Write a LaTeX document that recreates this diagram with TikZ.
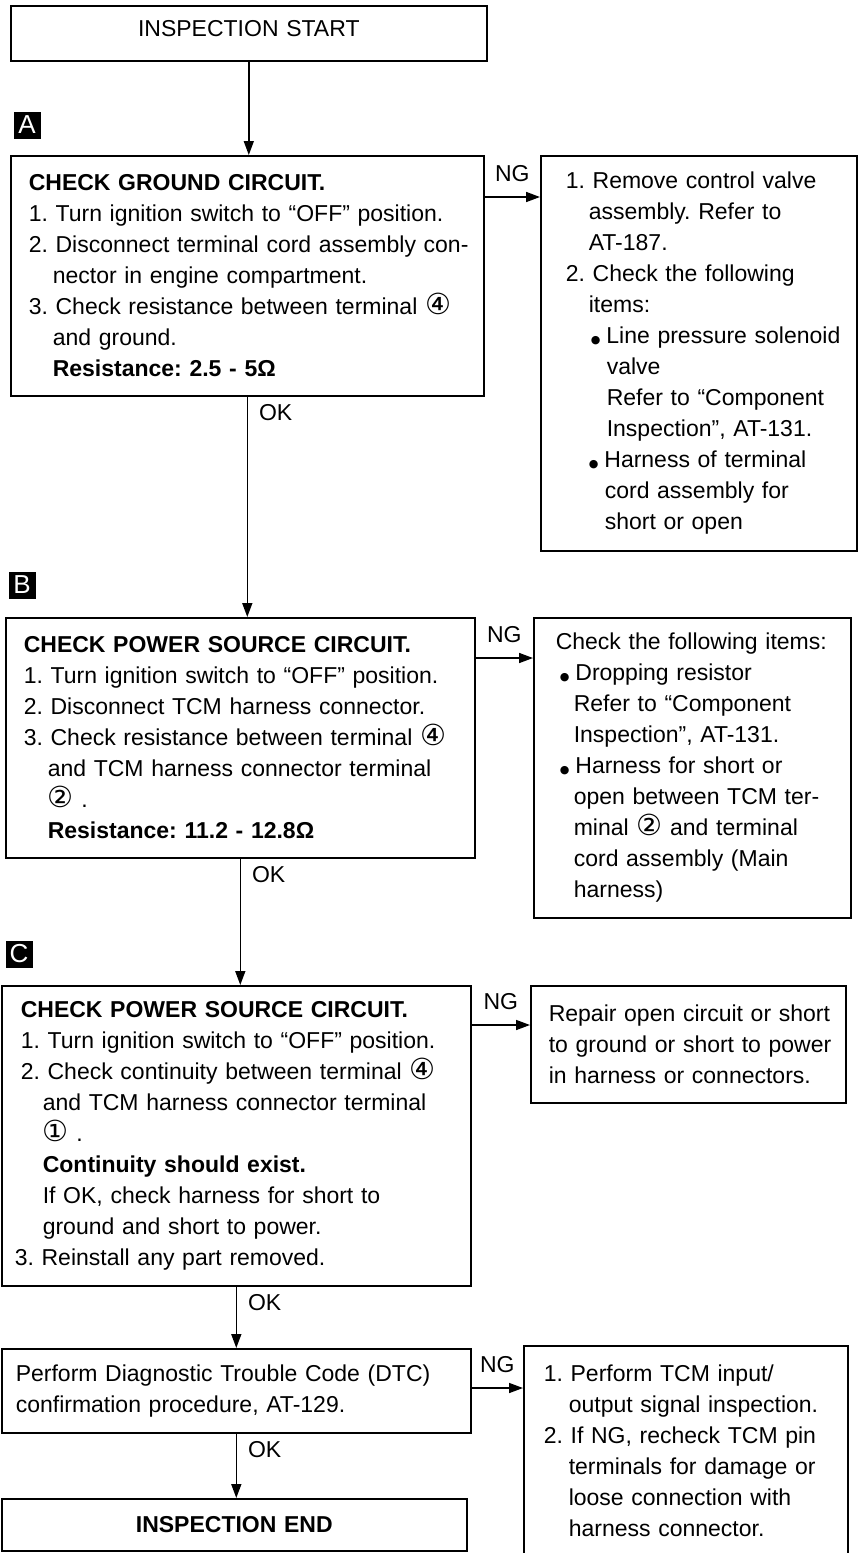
\documentclass[tikz,border=0pt]{standalone}
\usepackage{fontspec}
\setmainfont{Liberation Sans}
\newfontfamily\circfont{DejaVu Sans}
\usetikzlibrary{arrows.meta,positioning,calc}

\newcommand{\ind}{\hspace*{24pt}}
\newcommand{\lm}[1]{\leftskip=#1pt\relax}
\newcommand{\cnum}[1]{{\circfont\fontsize{29}{31}\selectfont#1}}
\newcommand{\blt}{{\circfont\fontsize{11}{11}\selectfont●}\hspace*{6pt}}

\tikzset{
  stepbox/.style={draw, line width=1.6pt, anchor=north west, align=left,
    inner xsep=4pt, inner ysep=0pt,
    font=\fontsize{23}{31}\selectfont\frenchspacing},
  flow/.style={line width=1.6pt, -{Triangle[length=14pt,width=10pt]}},
  tag/.style={fill=black, text=white, minimum size=27pt, inner sep=0pt,
    font=\fontsize{26}{26}\selectfont},
  ok/.style={anchor=north west, inner xsep=11pt, inner ysep=7pt,
    font=\fontsize{23}{31}\selectfont},
  ng/.style={above, inner sep=14pt, font=\fontsize{23}{31}\selectfont}
}

\begin{document}
\begin{tikzpicture}[x=1pt, y=-1pt]
  \useasboundingbox (0,0) rectangle (857,1553);

  \node[stepbox, align=center, inner xsep=0pt, text width=476pt,
        text depth=10pt, minimum height=55pt] (start) at (10,5) {INSPECTION START};

  % A
  \node[tag] (tagA) at (27,125) {A};
  \node[stepbox, text width=465pt, minimum height=240pt]
    (chkA) at (10,155) {\lm{14}%
      \textbf{CHECK GROUND CIRCUIT.}\\
      1. Turn ignition switch to “OFF” position.\\
      2. Disconnect terminal cord assembly con-\\
      \ind nector in engine compartment.\\
      3. Check resistance between terminal \cnum{④}\\
      \ind and ground.\\
      \ind\textbf{Resistance: 2.5 - 5Ω}\par};
  \node[stepbox, text width=308pt, minimum height=395pt]
    (fixA) at (540,155) {\lm{21}%
      1. Remove control valve\\
      \hspace*{23pt}assembly. Refer to\\
      \hspace*{23pt}AT-187.\\
      2. Check the following\\
      \hspace*{23pt}items:\\
      \hspace*{25pt}\blt Line pressure solenoid\\
      \hspace*{41pt}valve\\
      \hspace*{41pt}Refer to “Component\\
      \hspace*{41pt}Inspection”, AT-131.\\
      \hspace*{23pt}\blt Harness of terminal\\
      \hspace*{39pt}cord assembly for\\
      \hspace*{39pt}short or open\par};

  % B
  \node[tag] (tagB) at (22,585) {B};
  \node[stepbox, text width=461pt, minimum height=240pt]
    (chkB) at (5,617) {\lm{14}%
      \textbf{CHECK POWER SOURCE CIRCUIT.}\\
      1. Turn ignition switch to “OFF” position.\\
      2. Disconnect TCM harness connector.\\
      3. Check resistance between terminal \cnum{④}\\
      \ind and TCM harness connector terminal\\
      \ind\cnum{②} .\\
      \ind\textbf{Resistance: 11.2 - 12.8Ω}\par};
  \node[stepbox, text width=309pt, minimum height=300pt]
    (fixB) at (533,617) {\lm{18}%
      Check the following items:\\
      \hspace*{4pt}\blt Dropping resistor\\
      \hspace*{18pt}Refer to “Component\\
      \hspace*{18pt}Inspection”, AT-131.\\
      \hspace*{4pt}\blt Harness for short or\\
      \hspace*{18pt}open between TCM ter-\\
      \hspace*{18pt}minal \cnum{②}\ and terminal\\
      \hspace*{18pt}cord assembly (Main\\
      \hspace*{18pt}harness)\par};

  % C
  \node[tag] (tagC) at (19,954) {C};
  \node[stepbox, text width=461pt, minimum height=300pt]
    (chkC) at (1,985) {\lm{15}%
      \textbf{CHECK POWER SOURCE CIRCUIT.}\\
      1. Turn ignition switch to “OFF” position.\\
      2. Check continuity between terminal \cnum{④}\\
      \hspace*{22pt}and TCM harness connector terminal\\
      \hspace*{22pt}\cnum{①} .\\
      \hspace*{22pt}\textbf{Continuity should exist.}\\
      \hspace*{22pt}If OK, check harness for short to\\
      \hspace*{22pt}ground and short to power.\\
      \hspace*{-6pt}3. Reinstall any part removed.\par};
  \node[stepbox, text width=307pt, minimum height=117pt]
    (fixC) at (530,985) {\lm{14}%
      Repair open circuit or short\\
      to ground or short to power\\
      in harness or connectors.\par};

  % DTC
  \node[stepbox, text width=461pt, minimum height=84pt]
    (dtc) at (1,1348) {\lm{10}%
      Perform Diagnostic Trouble Code (DTC)\\
      confirmation procedure, AT-129.\par};
  \node[stepbox, text width=316pt, minimum height=210pt]
    (fixD) at (523,1345) {\lm{16}%
      1. Perform TCM input/\\
      \hspace*{25pt}output signal inspection.\\
      2. If NG, recheck TCM pin\\
      \hspace*{25pt}terminals for damage or\\
      \hspace*{25pt}loose connection with\\
      \hspace*{25pt}harness connector.\par};

  \node[stepbox, align=center, inner xsep=0pt, text width=465pt,
        minimum height=52pt] (finish) at (1,1498) {\textbf{INSPECTION END}};

  % OK path
  \draw[flow] (start.south) -- (start.south |- chkA.north);
  \draw[flow] (chkA.south) -- node[ok, pos=0] {OK} (chkA.south |- chkB.north);
  \draw[flow] (chkB.south) -- node[ok, pos=0] {OK} (chkB.south |- chkC.north);
  \draw[flow] (chkC.south) -- node[ok, pos=0] {OK} (chkC.south |- dtc.north);
  \draw[flow] (dtc.south) -- node[ok, pos=0] {OK} (dtc.south |- finish.north);

  % NG path
  \coordinate (ngA) at ($(chkA.north east)+(0,42)$);
  \coordinate (ngB) at ($(chkB.north east)+(0,41)$);
  \coordinate (ngC) at ($(chkC.north east)+(0,40)$);
  \coordinate (ngD) at ($(dtc.north east)+(0,40)$);
  \draw[flow] (ngA) -- node[ng] {NG} (ngA -| fixA.west);
  \draw[flow] (ngB) -- node[ng] {NG} (ngB -| fixB.west);
  \draw[flow] (ngC) -- node[ng] {NG} (ngC -| fixC.west);
  \draw[flow] (ngD) -- node[ng] {NG} (ngD -| fixD.west);
\end{tikzpicture}
\end{document}
